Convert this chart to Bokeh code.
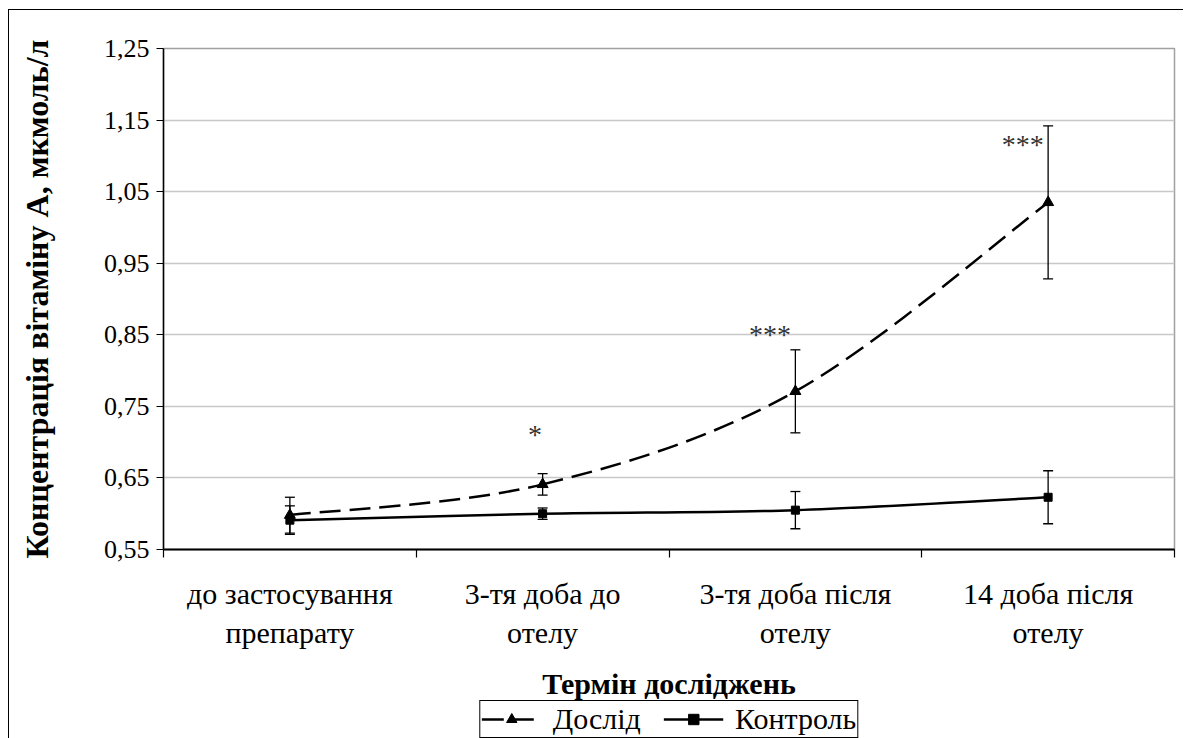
from bokeh.plotting import figure
from bokeh.layouts import column
from bokeh.models import (Range1d, FixedTicker, CustomJSTickFormatter, Whisker, TeeHead,
                          ColumnDataSource, Legend, LegendItem, Label)
from bokeh.core.properties import value
from bokeh.embed import file_html
from bokeh.resources import INLINE

# ---------------- data ----------------
categories = ["до застосування\nпрепарату", "3-тя доба до\nотелу",
              "3-тя доба після\nотелу", "14 доба після\nотелу"]
doslid = [0.598, 0.641, 0.771, 1.035]
doslid_err = [0.025, 0.015, 0.058, 0.107]
kontrol = [0.591, 0.600, 0.605, 0.623]
kontrol_err = [0.020, 0.008, 0.026, 0.037]
star_labels = ["*", "***", "***"]
star_cat = [1, 2, 3]
star_y = [0.711, 0.851, 1.116]
y_ticks = [0.55, 0.65, 0.75, 0.85, 0.95, 1.05, 1.15, 1.25]
x_title = "Термін досліджень"
y_title = "Концентрація вітаміну А, мкмоль/л"
series_names = ["Дослід", "Контроль"]

FONT = "Liberation Serif"
xs = [i + 0.5 for i in range(len(categories))]

def bezier_segments(x, y):
    px = [x[0]] + list(x) + [x[-1]]
    py = [y[0]] + list(y) + [y[-1]]
    out = dict(x0=[], y0=[], x1=[], y1=[], cx0=[], cy0=[], cx1=[], cy1=[])
    for i in range(len(x) - 1):
        a, b, c, d = i, i + 1, i + 2, i + 3
        out["x0"].append(px[b]); out["y0"].append(py[b])
        out["x1"].append(px[c]); out["y1"].append(py[c])
        out["cx0"].append(px[b] + (px[c] - px[a]) / 6)
        out["cy0"].append(py[b] + (py[c] - py[a]) / 6)
        out["cx1"].append(px[c] - (px[d] - px[b]) / 6)
        out["cy1"].append(py[c] - (py[d] - py[b]) / 6)
    return out

DASH = "21 9"

# ---------------- main chart ----------------
p = figure(frame_width=1011, frame_height=501, x_range=Range1d(0, 4), y_range=Range1d(0.55, 1.25),
           output_backend="svg", toolbar_location=None,
           min_border_left=154, min_border_top=38, min_border_right=9, min_border_bottom=111)
p.outline_line_color = "#a0a0a0"
p.outline_line_width = 1.5
p.background_fill_color = "white"
p.border_fill_color = "white"

p.xgrid.grid_line_color = None
p.ygrid.ticker = FixedTicker(ticks=y_ticks)
p.ygrid.grid_line_color = "#c8c8c8"
p.ygrid.grid_line_width = 1.3

ya = p.yaxis[0]
ya.ticker = FixedTicker(ticks=y_ticks)
ya.formatter = CustomJSTickFormatter(code="return tick.toFixed(2).replace('.', ',');")
ya.major_tick_out = 7
ya.major_tick_in = 0
ya.minor_tick_line_color = None
ya.axis_line_color = "black"
ya.axis_line_width = 1.5
ya.major_tick_line_color = "black"
ya.major_tick_line_width = 1.2
ya.major_label_text_font = FONT
ya.major_label_text_font_size = "26px"
ya.major_label_text_color = "black"
ya.major_label_standoff = 7
ya.axis_label = y_title
ya.axis_label_text_font = FONT
ya.axis_label_text_font_size = "32px"
ya.axis_label_text_font_style = "bold"
ya.axis_label_text_color = "black"
ya.axis_label_standoff = 46

xa = p.xaxis[0]
xa.ticker = FixedTicker(ticks=xs, minor_ticks=list(range(len(categories) + 1)))
xa.major_label_overrides = {x: c for x, c in zip(xs, categories)}
xa.major_tick_line_color = None
xa.major_tick_out = 8
xa.major_tick_in = 0
xa.minor_tick_out = 8
xa.minor_tick_in = 0
xa.minor_tick_line_color = "black"
xa.minor_tick_line_width = 1.2
xa.axis_line_color = "black"
xa.axis_line_width = 1.8
xa.major_label_text_font = FONT
xa.major_label_text_font_size = "30px"
xa.major_label_text_color = "black"
xa.major_label_standoff = 19

src_d = ColumnDataSource(dict(x=xs, upper=[v + e for v, e in zip(doslid, doslid_err)],
                              lower=[v - e for v, e in zip(doslid, doslid_err)]))
src_k = ColumnDataSource(dict(x=xs, upper=[v + e for v, e in zip(kontrol, kontrol_err)],
                              lower=[v - e for v, e in zip(kontrol, kontrol_err)]))
for s in (src_d, src_k):
    w = Whisker(source=s, base="x", upper="upper", lower="lower",
                line_color="black", line_width=1.3,
                upper_head=TeeHead(size=10, line_color="black", line_width=1.3),
                lower_head=TeeHead(size=10, line_color="black", line_width=1.3))
    p.add_layout(w)

bd = bezier_segments(xs, doslid)
bk = bezier_segments(xs, kontrol)
p.bezier(source=ColumnDataSource(bk), x0="x0", y0="y0", x1="x1", y1="y1",
         cx0="cx0", cy0="cy0", cx1="cx1", cy1="cy1", line_color="black", line_width=2.5)
p.bezier(source=ColumnDataSource(bd), x0="x0", y0="y0", x1="x1", y1="y1",
         cx0="cx0", cy0="cy0", cx1="cx1", cy1="cy1", line_color="black", line_width=2.5,
         line_dash=DASH)
p.scatter(xs, doslid, marker="triangle", size=11, color="black")
p.scatter(xs, kontrol, marker="square", size=8, color="black")

p.text(x=[xs[i] + (-0.03 if lab == "*" else -0.1) for i, lab in zip(star_cat, star_labels)],
       y=star_y, text=star_labels, text_font=value(FONT), text_font_size="28px",
       text_align="center", text_baseline="alphabetic", text_color="#333333")

# ---------------- x title + legend strip ----------------
p2 = figure(frame_width=1011, frame_height=78, x_range=Range1d(10, 14), y_range=Range1d(0, 1),
            output_backend="svg", toolbar_location=None,
            min_border_left=154, min_border_top=0, min_border_right=9, min_border_bottom=0)
p2.axis.visible = False
p2.grid.grid_line_color = None
p2.outline_line_color = None
p2.background_fill_color = "white"
p2.border_fill_color = "white"

# series renderers (lying outside this strip's view) used only for the legend swatches
ld = p2.line(xs, doslid, line_color="black", line_width=2.5, line_dash="22 8")
td = p2.scatter(xs, doslid, marker="triangle", size=11, color="black")
lk = p2.line(xs, kontrol, line_color="black", line_width=2.5)
tk = p2.scatter(xs, kontrol, marker="square", size=8, color="black")

p2.add_layout(Label(x=12, y=0.70, text=x_title, text_font=FONT, text_font_size="30px",
                    text_font_style="bold", text_color="black",
                    text_align="center", text_baseline="middle"))

legend = Legend(items=[LegendItem(label=series_names[0], renderers=[ld, td]),
                       LegendItem(label=series_names[1], renderers=[lk, tk])],
                orientation="horizontal", location="bottom_center",
                border_line_color="black", border_line_width=1.2, border_line_alpha=1,
                label_text_font=FONT, label_text_font_size="30px", label_text_color="black",
                glyph_width=60, glyph_height=26, padding=1, spacing=22,
                label_standoff=12, margin=0, background_fill_alpha=1)
p2.add_layout(legend, "center")

lay = column(p, p2, spacing=0)
lay.styles = {"border-left": "1px solid black", "border-top": "1px solid black",
              "margin-left": "8px", "margin-top": "9px"}

open("out.html", "w").write(file_html(lay, INLINE))
